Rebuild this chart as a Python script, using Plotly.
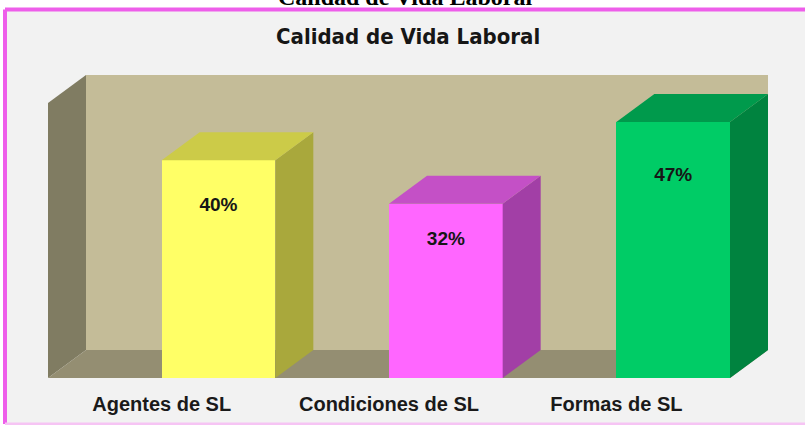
import plotly.graph_objects as go

# ---- data ----
categories = ["Agentes de SL", "Condiciones de SL", "Formas de SL"]
values = [40, 32, 47]
value_labels = ["40%", "32%", "47%"]
chart_title = "Calidad de Vida Laboral"

# ---- styles ----
front_colors = ["#ffff66", "#ff66ff", "#00cc66"]
top_colors = ["#cccb48", "#c450c6", "#009a4c"]
side_colors = ["#a9a83c", "#a23fa6", "#00833f"]
back_wall = "#c4bc98"
left_wall = "#807c62"
floor_col = "#948e72"
box_fill = "#f2f2f2"
border_col = "#ee5eea"
border_bottom_col = "#f6c4f4"

W, H = 805, 425
ML, MR, MT, MB = 48, 37, 75, 47
PW, PH = W - ML - MR, H - MT - MB
DEPTH_PX_X, DEPTH_PX_Y = 38, 28
X0, X1 = -0.5, 2.5
ux = (PW - DEPTH_PX_X) / (X1 - X0)
DX = DEPTH_PX_X / ux
YMAX = 50.5
uy = (PH - DEPTH_PX_Y) / YMAX
DY = DEPTH_PX_Y / uy
BW = 0.5


def px_to_paper_x(px):
    return (px - ML) / PW


def px_to_paper_y(py):
    return (H - MB - py) / PH


def path(pts):
    return "M " + " L ".join(f"{x},{y}" for x, y in pts) + " Z"


fig = go.Figure()

# 3D faces of the bars
for i, v in enumerate(values):
    side = [(i + BW, 0), (i + BW, v), (i + BW + DX, v + DY), (i + BW + DX, DY)]
    top = [(i, v), (i + DX, v + DY), (i + BW + DX, v + DY), (i + BW, v)]
    for pts, col in ((side, side_colors[i]), (top, top_colors[i])):
        fig.add_trace(go.Scatter(
            x=[p[0] for p in pts] + [pts[0][0]],
            y=[p[1] for p in pts] + [pts[0][1]],
            fill="toself", fillcolor=col, mode="lines",
            line=dict(width=0, color=col), hoverinfo="skip", showlegend=False))

# front faces
fig.add_trace(go.Bar(
    x=list(range(len(values))), y=values, offset=0, width=BW,
    marker=dict(color=front_colors, line=dict(width=0)),
    hovertext=categories, showlegend=False))

# value labels
fig.add_trace(go.Scatter(
    x=[i + BW / 2 for i in range(len(values))],
    y=[v * 0.79 for v in values],
    text=[f"<b>{t}</b>" for t in value_labels], mode="text",
    textfont=dict(family="Liberation Sans, Arial, sans-serif", size=19, color="#161616"),
    hoverinfo="skip", showlegend=False))

bx0, bx1 = px_to_paper_x(5), px_to_paper_x(805)
by_top, by_bot = px_to_paper_y(9.5), px_to_paper_y(424)

shapes = [
    # outer box fill
    dict(type="rect", xref="paper", yref="paper", layer="below",
         x0=bx0, x1=bx1, y0=by_bot, y1=by_top,
         fillcolor=box_fill, line=dict(width=0)),
    # pink border: top, left, bottom
    dict(type="line", xref="paper", yref="paper", layer="below",
         x0=bx0, x1=bx1, y0=by_top, y1=by_top, line=dict(color=border_col, width=4)),
    dict(type="line", xref="paper", yref="paper", layer="below",
         x0=bx0, x1=bx0, y0=by_bot, y1=by_top, line=dict(color=border_col, width=4)),
    dict(type="line", xref="paper", yref="paper", layer="below",
         x0=bx0, x1=bx1, y0=by_bot, y1=by_bot, line=dict(color=border_bottom_col, width=3)),
    # back wall
    dict(type="path", xref="x", yref="y", layer="below",
         path=path([(X0 + DX, DY), (X0 + DX, YMAX + DY), (X1 + DX, YMAX + DY), (X1 + DX, DY)]),
         fillcolor=back_wall, line=dict(width=0)),
    # left wall
    dict(type="path", xref="x", yref="y", layer="below",
         path=path([(X0, 0), (X0, YMAX), (X0 + DX, YMAX + DY), (X0 + DX, DY)]),
         fillcolor=left_wall, line=dict(width=0)),
    # floor
    dict(type="path", xref="x", yref="y", layer="below",
         path=path([(X0, 0), (X0 + DX, DY), (X1 + DX, DY), (X1, 0)]),
         fillcolor=floor_col, line=dict(width=0)),
]

annotations = [
    dict(text=f"<b>{chart_title}</b>", xref="paper", yref="paper",
         x=px_to_paper_x(408), y=px_to_paper_y(36.5), xanchor="center", yanchor="middle",
         showarrow=False,
         font=dict(family="DejaVu Sans Condensed, DejaVu Sans, sans-serif", size=22, color="#161616")),
    dict(text=f"<b>{chart_title}</b>", xref="paper", yref="paper",
         x=px_to_paper_x(405), y=px_to_paper_y(-3), xanchor="center", yanchor="middle",
         showarrow=False,
         font=dict(family="Liberation Serif, Times New Roman, serif", size=24, color="#000000")),
]

fig.update_layout(
    width=W, height=H,
    margin=dict(l=ML, r=MR, t=MT, b=MB, pad=0, autoexpand=False),
    paper_bgcolor="#ffffff", plot_bgcolor="rgba(0,0,0,0)",
    shapes=shapes, annotations=annotations,
    bargap=0, showlegend=False,
    xaxis=dict(range=[X0, X1 + DX], tickvals=list(range(len(categories))),
               ticktext=[f"<b>{c}</b>" for c in categories],
               tickfont=dict(family="Liberation Sans, Arial, sans-serif", size=20, color="#1a1a1a"),
               ticks="outside", ticklen=8, tickcolor="rgba(0,0,0,0)", automargin=False,
               showgrid=False, zeroline=False, showline=False, fixedrange=True),
    yaxis=dict(range=[0, YMAX + DY], visible=False, showgrid=False, zeroline=False,
               automargin=False, fixedrange=True),
)

fig.write_html("out.html", config={"displayModeBar": False},
               post_script="document.body.style.margin='0';document.body.style.overflow='hidden';")
